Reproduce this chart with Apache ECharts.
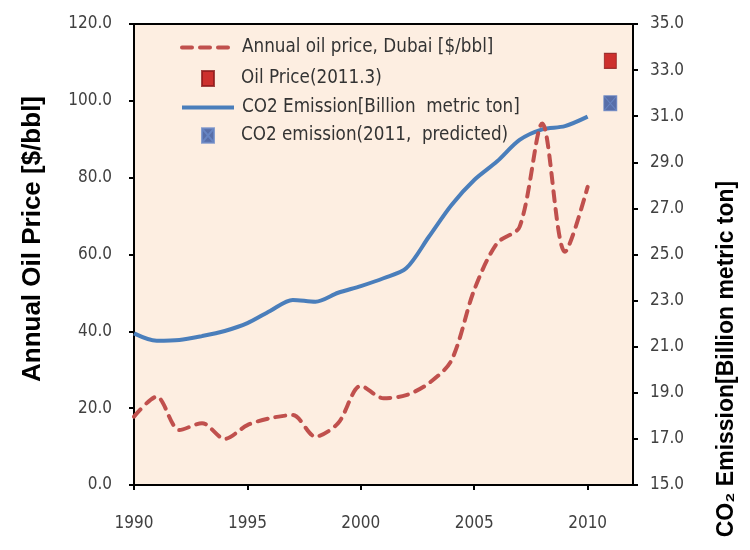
<!DOCTYPE html>
<html><head><meta charset="utf-8">
<script src="https://cdn.jsdelivr.net/npm/echarts@6/dist/echarts.min.js"></script>
<style>html,body{margin:0;padding:0;background:#fff}#c{width:750px;height:550px}</style>
</head><body><div id="c"></div>
<script>
const years = [1990,1991,1992,1993,1994,1995,1996,1997,1998,1999,2000,2001,2002,2003,2004,2005,2006,2007,2008,2009,2010];
const oilPrice = [17.8,23.0,14.3,16.1,12.0,15.6,17.4,18.2,12.6,16.1,25.8,22.6,23.4,26.5,32.5,50.8,62.9,67.2,94.1,60.7,77.6];
const co2Emission = [21.58,21.26,21.29,21.46,21.68,22.02,22.55,23.03,22.95,23.34,23.63,23.97,24.40,25.77,27.15,28.23,29.03,29.97,30.43,30.57,30.98];
const oilPrice2011 = [2011, 110.4];
const co2Predicted2011 = [2011, 31.56];
const xTicks = [1990,1995,2000,2005,2010];
const leftTicks = [0,20,40,60,80,100,120];
const rightTicks = [15,17,19,21,23,25,27,29,31,33,35];
const names = ['Annual oil price, Dubai [$/bbl]','Oil Price(2011.3)','CO2 Emission[Billion  metric ton]','CO2 emission(2011,  predicted)'];
const leftTitle = 'Annual Oil Price [$/bbl]';
const rightTitle = 'CO\u2082 Emission[Billion metric ton]';

const FONT = "'Liberation Sans Narrow','DejaVu Sans Condensed','Liberation Sans',sans-serif";
const TFONT = "'Liberation Sans','DejaVu Sans',sans-serif";
const TXT = '#404040';
const chart = echarts.init(document.getElementById('c'), null, {renderer:'canvas'});
function legendAt(name, left, top, w, h, pad, isLine){
  const l = {data:[name], orient:'vertical', left:left, top:top, itemWidth:w, itemHeight:h, padding:0,
    selectedMode:false, textStyle:{fontFamily:FONT, fontSize:18.7, color:'#333', padding:[0,0,0,pad]}};
  if (isLine) { l.itemStyle = {opacity:0}; l.lineStyle = {width:4}; }
  return l;
}
chart.setOption({
  animation:false,
  backgroundColor:'#fff',
  grid:{left:134, right:117, top:24, bottom:65, show:true, backgroundColor:'#FDEEE1', borderColor:'#000', borderWidth:2, containLabel:false, outerBoundsMode:'none'},
  legend:[
    legendAt(names[0], 180, 38, 52, 14, 3, true),
    legendAt(names[1], 201, 69, 12, 15, 22, false),
    legendAt(names[2], 180, 98, 52, 14, 3, true),
    legendAt(names[3], 201, 126, 12, 15, 22, false)
  ],
  xAxis:{type:'value', min:1990, max:2012, interval:5,
    axisLine:{show:true, lineStyle:{color:'#000', width:2}},
    axisTick:{show:true, length:5, inside:false, lineStyle:{color:'#000', width:2}, customValues:xTicks},
    axisLabel:{customValues:xTicks, margin:30, fontFamily:FONT, fontSize:17, color:TXT, formatter:v=>String(v)},
    splitLine:{show:false}},
  yAxis:[
    {type:'value', min:0, max:120, interval:20, position:'left',
      axisLine:{show:true, lineStyle:{color:'#000', width:2}},
      axisTick:{show:true, length:5, lineStyle:{color:'#000', width:2}},
      axisLabel:{margin:22, fontFamily:FONT, fontSize:17, color:TXT, formatter:v=>v.toFixed(1)},
      splitLine:{show:false}},
    {type:'value', min:15, max:35, position:'right',
      axisLine:{show:true, lineStyle:{color:'#000', width:2}},
      axisTick:{show:true, length:5, lineStyle:{color:'#000', width:2}, customValues:rightTicks},
      axisLabel:{customValues:rightTicks, margin:17, fontFamily:FONT, fontSize:17, color:TXT, formatter:v=>v.toFixed(1)},
      splitLine:{show:false}}
  ],
  graphic:[
    {type:'text', x:33, y:239, rotation:Math.PI/2, style:{text:leftTitle, font:'bold 26px '+TFONT, fill:'#000', textAlign:'center', textVerticalAlign:'middle'}},
    {type:'text', x:727, y:359, rotation:Math.PI/2, style:{text:rightTitle, font:'bold 23px '+TFONT, fill:'#000', textAlign:'center', textVerticalAlign:'middle'}}
  ],
  series:[
    {name:names[0], type:'line', yAxisIndex:0, data:years.map((y,i)=>[y,oilPrice[i]]), smooth:0.3, symbol:'none',
      lineStyle:{color:'#C0504D', width:4, type:[10,8], cap:'round'}, itemStyle:{color:'#C0504D'}, z:3},
    {name:names[1], type:'scatter', yAxisIndex:0, data:[oilPrice2011], symbol:'rect', symbolSize:[12,15],
      itemStyle:{color:'#C00000', borderColor:'#8C1A1A', borderWidth:1}, z:4},
    {name:names[2], type:'line', yAxisIndex:1, data:years.map((y,i)=>[y,co2Emission[i]]), smooth:0.3, symbol:'none',
      lineStyle:{color:'#4A7EBB', width:4}, itemStyle:{color:'#4A7EBB'}, z:2},
    {name:names[3], type:'scatter', yAxisIndex:1, data:[co2Predicted2011], symbol:'path://M0,0H10V12H0Z M0,0L10,12 M10,0L0,12', symbolSize:[13,15],
      itemStyle:{color:'#2E4E9A', borderColor:'#6A8AC8', borderWidth:1}, z:4}
  ]
});
</script></body></html>
